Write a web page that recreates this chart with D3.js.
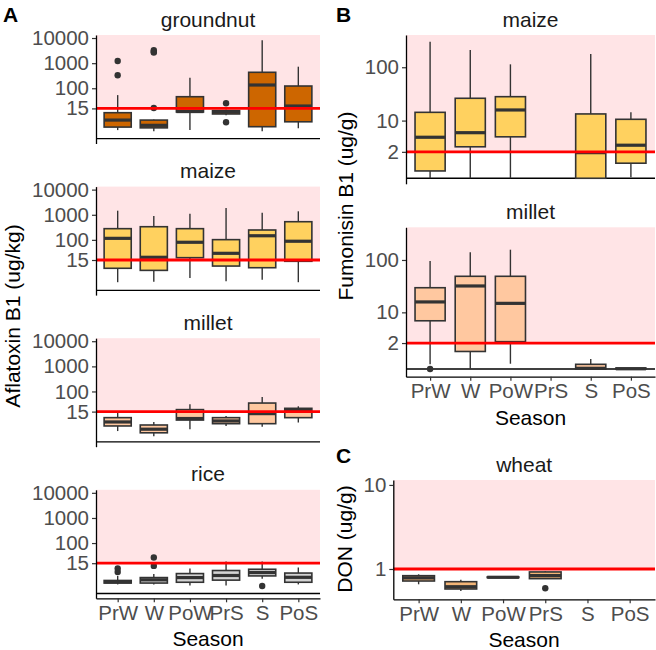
<!DOCTYPE html>
<html><head><meta charset="utf-8">
<script src="https://cdn.jsdelivr.net/npm/d3@7"></script>
<style>
body{margin:0;background:#fff}
svg{display:block}
text{font-family:"Liberation Sans",Arial,Helvetica,sans-serif}
</style>
</head><body>
<svg id="chart" width="656" height="650"></svg>
<script>
// ---------------- DATA ----------------
const seasons = ["PrW","W","PoW","PrS","S","PoS"];
const aflaTicks = [15,100,1000,10000];
const fumoTicks = [2,10,100];
const donTicks = [1,10];
const aflaLimit = 15, fumoLimit = 2, donLimit = 1;

// [season, lower whisker, Q1, median, Q3, upper whisker]
const groundnutAfla = [
  ["PrW",1.2,1.9,4.5,9.8,53],
  ["W",1.0,1.7,2.4,4.5,4.8],
  ["PoW",1.2,10.5,11,45.6,264],
  ["PrS",7.5,8.6,10.5,12,13.5],
  ["S",1.0,2.0,135,434,8100],
  ["PoS",1.6,3.7,18.9,123,725]
];
const groundnutAflaOut = [["PrW",1220],["PrW",329],["W",3300],["W",2880],["W",2630],["W",15.6],["PrS",24.5],["PrS",3.5]];

const maizeAfla = [
  ["PrW",1.1,6.5,115,280,1455],
  ["W",1.2,5.2,19.5,335,895],
  ["PoW",2.1,18.8,80,280,1105],
  ["PrS",1.3,8.2,28.5,102,1860],
  ["S",1.6,6.9,146,248,1210],
  ["PoS",1.1,13.2,88,530,1375]
];
const maizeAflaOut = [];

const milletAfla = [
  ["PrW",1.7,3.3,5.2,8.2,13.6],
  ["W",0.66,1.3,2.2,3.7,5.2],
  ["PoW",2.2,6.4,7.5,18.2,30],
  ["PrS",3.3,4.3,5.8,8.2,9.7],
  ["S",3.0,4.3,12.3,34,60],
  ["PoS",4.9,8.2,18.2,20.6,25]
];
const milletAflaOut = [];

const riceAfla = [
  ["PrW",1.3,1.6,1.9,2.3,4],
  ["W",1.3,1.6,2.5,3.3,4.9],
  ["PoW",1.1,1.8,3.3,5.2,8.8],
  ["PrS",1.1,2.4,4.2,7.2,17.7],
  ["S",2.9,4.0,5.8,8.2,17.7],
  ["PoS",1.3,1.8,3.4,5.5,9.8]
];
const riceAflaOut = [["PrW",8.8],["PrW",6.2],["W",25.9],["W",11.5],["S",1.0]];

const maizeFumo = [
  ["PrW",0,0.355,4.5,14.5,291],
  ["W",0,2.7,5.65,26.8,206],
  ["PoW",0,4.6,16.1,28.7,113],
  ["S",0,0,1.9,13.5,174],
  ["PoS",0.04,0.87,2.95,10.6,14.5]
];
const maizeFumoOut = [];

const milletFumo = [
  ["PrW",0.22,6.7,16.1,30.2,95.6],
  ["W",0,1.1,32.6,49.6,139],
  ["PoW",0.25,2.18,15.1,49.6,155],
  ["S",0,0,0.03,0.22,0.53],
  ["PoS",0,0,0.01,0.04,0.04]
];
const milletFumoOut = [["PrW",0]];

const wheatDon = [
  ["PrW",0.466,0.567,0.667,0.746,0.795],
  ["W",0.279,0.333,0.396,0.546,0.61],
  ["PoW",0.68,0.68,0.69,0.70,0.70],
  ["PrS",0.644,0.644,0.75,0.884,0.91]
];
const wheatDonOut = [["PrS",0.352]];

// ---------------- STYLE / LAYOUT ----------------
const fills = {groundnut:"#CD6600", maize:"#FFD15F", millet:"#FFC8A0", rice:"#D3D3D3", wheat:"#F3B577"};
const pink = "#FFE4E6", red = "#FF0000", dark = "#333333", tickGrey = "#4D4D4D";

const svg = d3.select("#chart");

function facet(opt){
  const {x0,x1,top,bottom,domain,ticks,limit,title,data,outs,fill,bottomAxis,zeroLine} = opt;
  const x = d3.scalePoint().domain(seasons).range([x0,x1]).padding(0.6);
  const y = d3.scaleSymlog().constant(1).domain(domain).range([bottom,top]);
  const g = svg.append("g");

  g.append("rect").attr("x",x0).attr("width",x1-x0)
    .attr("y",top).attr("height",y(limit)-top).attr("fill",pink);

  if (zeroLine) {
    g.append("line").attr("x1",x0).attr("x2",x1).attr("y1",y(0)).attr("y2",y(0))
      .attr("stroke","#000").attr("stroke-width",1.3);
  }

  const w = x.step()*0.75;
  const bx = g.selectAll("g.box").data(data).join("g").attr("class","box");
  bx.append("line").attr("x1",d=>x(d[0])).attr("x2",d=>x(d[0]))
    .attr("y1",d=>y(d[5])).attr("y2",d=>y(d[4])).attr("stroke",dark).attr("stroke-width",1.4);
  bx.append("line").attr("x1",d=>x(d[0])).attr("x2",d=>x(d[0]))
    .attr("y1",d=>y(d[2])).attr("y2",d=>y(d[1])).attr("stroke",dark).attr("stroke-width",1.4);
  bx.append("rect").attr("x",d=>x(d[0])-w/2).attr("width",w)
    .attr("y",d=>y(d[4])).attr("height",d=>Math.max(0,y(d[2])-y(d[4])))
    .attr("fill",fill).attr("stroke",dark).attr("stroke-width",1.6);
  bx.append("line").attr("x1",d=>x(d[0])-w/2).attr("x2",d=>x(d[0])+w/2)
    .attr("y1",d=>y(d[3])).attr("y2",d=>y(d[3])).attr("stroke",dark).attr("stroke-width",3.2);
  g.selectAll("circle.out").data(outs).join("circle").attr("class","out")
    .attr("cx",d=>x(d[0])).attr("cy",d=>y(d[1])).attr("r",3.2).attr("fill",dark);

  g.append("line").attr("x1",x0).attr("x2",x1).attr("y1",y(limit)).attr("y2",y(limit))
    .attr("stroke",red).attr("stroke-width",2.8);

  const ya = g.append("g").attr("transform",`translate(${x0},0)`)
    .call(d3.axisLeft(y).tickValues(ticks).tickFormat(d3.format("d")).tickSize(4).tickSizeOuter(0).tickPadding(3));
  ya.select(".domain").attr("stroke","#000").attr("stroke-width",1.3);
  ya.selectAll(".tick line").attr("stroke",dark).attr("stroke-width",1.2);
  ya.selectAll(".tick text").attr("fill",tickGrey).attr("font-size",20.5);

  if (bottomAxis) {
    const xa = g.append("g").attr("transform",`translate(0,${bottom})`)
      .call(d3.axisBottom(x).tickSize(4).tickSizeOuter(0).tickPadding(3));
    xa.select(".domain").attr("stroke","#000").attr("stroke-width",1.3);
    xa.selectAll(".tick line").attr("stroke",dark).attr("stroke-width",1.2);
    xa.selectAll(".tick text").attr("fill",tickGrey).attr("font-size",20.5);
  }

  g.append("text").attr("x",(x0+x1)/2).attr("y",top-8.5).attr("text-anchor","middle")
    .attr("font-size",21).attr("fill","#1a1a1a").text(title);
}

// Panel A: aflatoxin
const aTitles = ["groundnut","maize","millet","rice"];
const aData = [groundnutAfla, maizeAfla, milletAfla, riceAfla];
const aOuts = [groundnutAflaOut, maizeAflaOut, milletAflaOut, riceAflaOut];
const aFills = [fills.groundnut, fills.maize, fills.millet, fills.rice];
aTitles.forEach((t,i)=>{
  const top = 35 + i*151.6;
  facet({x0:96,x1:320,top,bottom:top+108.5,domain:[-0.549,13182],ticks:aflaTicks,limit:aflaLimit,
    title:t,data:aData[i],outs:aOuts[i],fill:aFills[i],bottomAxis:i===3,zeroLine:true});
});

// Panel B: fumonisin
facet({x0:406,x1:655,top:35,bottom:183.8,domain:[-0.259,385],ticks:fumoTicks,limit:fumoLimit,
  title:"maize",data:maizeFumo,outs:maizeFumoOut,fill:fills.maize,bottomAxis:false,zeroLine:true});
facet({x0:406,x1:655,top:227.3,bottom:376.7,domain:[-0.385,401.6],ticks:fumoTicks,limit:fumoLimit,
  title:"millet",data:milletFumo,outs:milletFumoOut,fill:fills.millet,bottomAxis:true,zeroLine:true});

// Panel C: DON
facet({x0:393.3,x1:655,top:480,bottom:599.3,domain:[0.0814,11.16],ticks:donTicks,limit:donLimit,
  title:"wheat",data:wheatDon,outs:wheatDonOut,fill:fills.wheat,bottomAxis:true,zeroLine:false});

function ytitle(x,y,txt){
  svg.append("text").attr("transform",`translate(${x},${y}) rotate(-90)`).attr("text-anchor","middle")
    .attr("font-size",21).attr("fill","#000").text(txt);
}
ytitle(20,316,"Aflatoxin B1 (ug/kg)");
ytitle(353,206,"Fumonisin B1 (ug/g)");
ytitle(352,539,"DON (ug/g)");
function xtitle(x,y){
  svg.append("text").attr("x",x).attr("y",y).attr("text-anchor","middle")
    .attr("font-size",21).attr("fill","#000").text("Season");
}
xtitle(208,646);
xtitle(530.5,425);
xtitle(524,647);

[["A",3,22],["B",336,22],["C",336,463]].forEach(([t,x,y])=>{
  svg.append("text").attr("x",x).attr("y",y).attr("font-size",21).attr("font-weight","bold").attr("fill","#000").text(t);
});
</script>
</body></html>
